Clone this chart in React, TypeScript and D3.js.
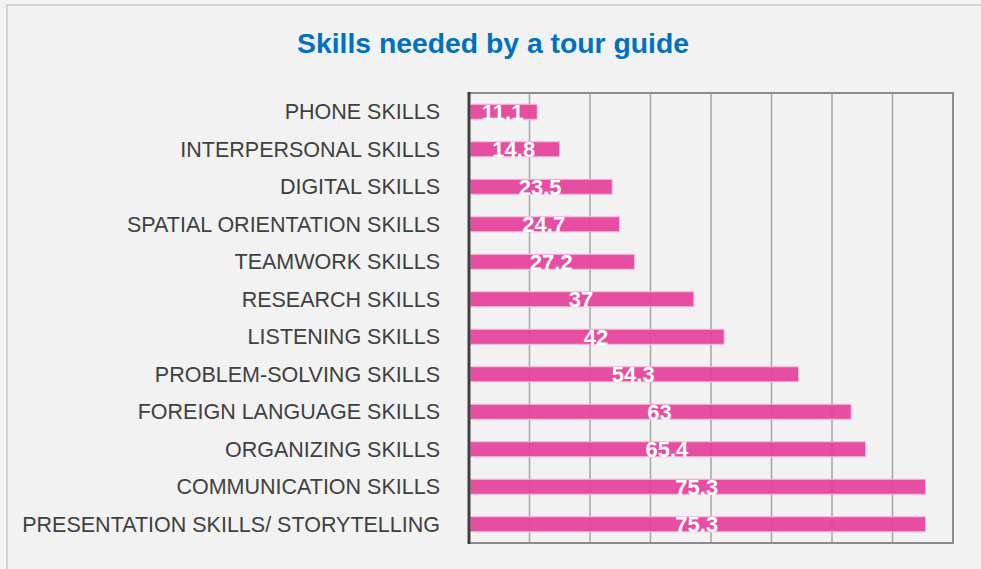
import { useEffect, useRef } from 'react'
import * as d3 from 'd3'

const categories = [
  'PHONE SKILLS',
  'INTERPERSONAL SKILLS',
  'DIGITAL SKILLS',
  'SPATIAL ORIENTATION SKILLS',
  'TEAMWORK SKILLS',
  'RESEARCH SKILLS',
  'LISTENING SKILLS',
  'PROBLEM-SOLVING SKILLS',
  'FOREIGN LANGUAGE SKILLS',
  'ORGANIZING SKILLS',
  'COMMUNICATION SKILLS',
  'PRESENTATION SKILLS/ STORYTELLING',
]
const values = [11.1, 14.8, 23.5, 24.7, 27.2, 37, 42, 54.3, 63, 65.4, 75.3, 75.3]
const xTicks = [0, 10, 20, 30, 40, 50, 60, 70, 80]
const title = 'Skills needed by a tour guide'

export default function App() {
  const svgRef = useRef<SVGSVGElement>(null)

  const width = 981
  const height = 569
  const plot = { left: 469, right: 953, top: 93, bottom: 543 }

  useEffect(() => {
    const svg = d3.select(svgRef.current)
    svg.selectAll('*').remove()

    const x = d3.scaleLinear().domain([0, 80]).range([plot.left, plot.right])
    const y = d3.scaleBand().domain(categories).range([plot.top, plot.bottom]).paddingInner(0.6).paddingOuter(0.3)

    svg.append('rect')
      .attr('width', width).attr('height', height)
      .attr('fill', '#f2f2f2')

    // outer chart border (only top and left show in the frame)
    svg.append('path')
      .attr('d', `M7,${height} V5 H${width}`)
      .attr('fill', 'none').attr('stroke', '#c8c8c8').attr('stroke-width', 1.5)

    svg.append('text')
      .attr('x', 297).attr('y', 53)
      .attr('textLength', 392)
      .attr('lengthAdjust', 'spacingAndGlyphs')
      .attr('font-family', 'Liberation Sans, Arial, sans-serif')
      .attr('font-weight', 'bold')
      .attr('font-size', 27)
      .attr('fill', '#0070c0')
      .text(title)

    // vertical gridlines
    svg.append('g')
      .selectAll('line')
      .data(xTicks.slice(1, -1))
      .join('line')
      .attr('x1', d => x(d)).attr('x2', d => x(d))
      .attr('y1', plot.top).attr('y2', plot.bottom)
      .attr('stroke', '#a6a6a6').attr('stroke-width', 1.5)

    // plot frame
    svg.append('path')
      .attr('d', `M${plot.left},${plot.top} H${plot.right} V${plot.bottom} H${plot.left}`)
      .attr('fill', 'none').attr('stroke', '#8c8c8c').attr('stroke-width', 2)

    svg.append('g')
      .selectAll('rect')
      .data(values)
      .join('rect')
      .attr('x', x(0) + 1)
      .attr('y', (_, i) => y(categories[i])!)
      .attr('width', d => x(d) - x(0))
      .attr('height', y.bandwidth())
      .attr('fill', '#e5409a')
      .attr('fill-opacity', 0.92)
      .attr('stroke', '#f6bcdb').attr('stroke-width', 1)

    svg.append('line')
      .attr('x1', plot.left).attr('x2', plot.left)
      .attr('y1', plot.top - 1).attr('y2', plot.bottom + 1)
      .attr('stroke', '#404040').attr('stroke-width', 3)

    svg.append('g')
      .selectAll('text')
      .data(values)
      .join('text')
      .attr('x', d => (x(0) + x(d)) / 2)
      .attr('y', (_, i) => y(categories[i])! + y.bandwidth() / 2 + 8)
      .attr('text-anchor', 'middle')
      .attr('font-family', 'Liberation Sans, Arial, sans-serif')
      .attr('font-weight', 'bold')
      .attr('font-size', 22)
      .attr('fill', '#ffffff')
      .text(d => String(d))

    svg.append('g')
      .selectAll('text')
      .data(categories)
      .join('text')
      .attr('x', 440)
      .attr('y', d => y(d)! + y.bandwidth() / 2 + 7.5)
      .attr('text-anchor', 'end')
      .attr('font-family', 'Liberation Sans, Arial, sans-serif')
      .attr('font-size', 21.5)
      .attr('fill', '#404040')
      .text(d => d)
  }, [])

  return (
    <svg
      ref={svgRef}
      width={width}
      height={height}
      style={{ position: 'absolute', left: 0, top: 0, display: 'block' }}
    />
  )
}
